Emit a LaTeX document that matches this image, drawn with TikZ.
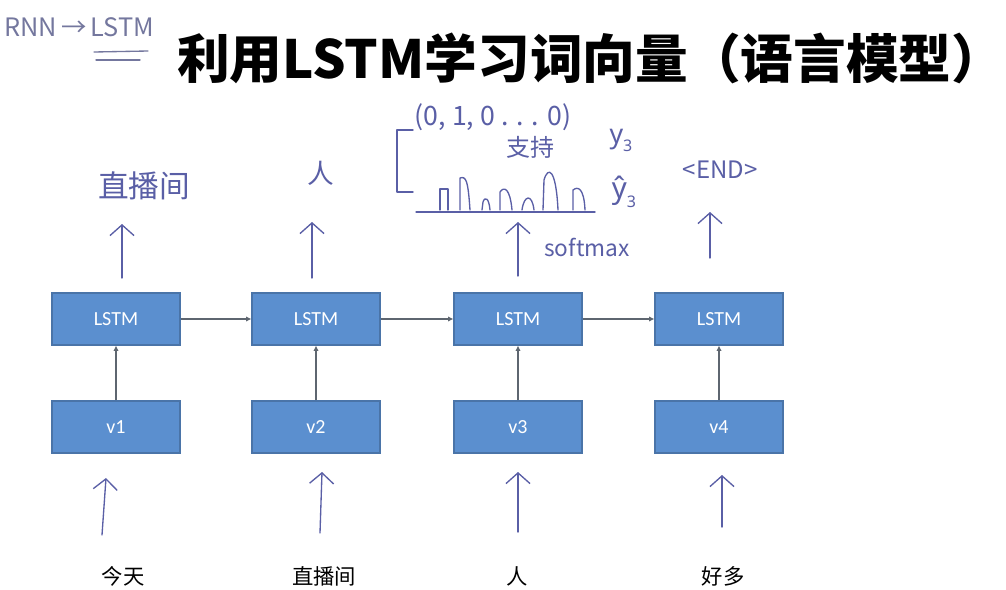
\documentclass[tikz,border=0pt]{standalone}
\usepackage{fontspec}
\setmainfont{Carlito}
\newfontfamily\cjk{Noto Sans CJK SC}
\newfontfamily\lat{Noto Sans}
\usetikzlibrary{arrows.meta}
\definecolor{boxfill}{HTML}{5B8FCF}
\definecolor{boxline}{HTML}{4A74A8}
\definecolor{pen}{HTML}{5A5FA6}
\definecolor{pen2}{HTML}{74779E}
\definecolor{conncol}{HTML}{5E6670}
\newcommand{\lowsub}[1]{\raisebox{-0.3em}{\fontsize{12}{12}\selectfont #1}}
\tikzset{
  cell/.style={draw=boxline, line width=0.8pt, fill=boxfill, text=white, minimum width=96pt, minimum height=39pt, inner sep=0pt, font=\fontsize{15}{15}\selectfont},
  conn/.style={draw=conncol, line width=0.9pt, -{Latex[length=4pt,width=4pt]}},
  harrow/.style={draw=pen, line width=1pt, line cap=round, -{Straight Barb[length=8pt,width=18pt]}},
  hline/.style={draw=pen, line width=1pt, line cap=round, line join=round},
  htext/.style={text=pen, inner sep=0pt, font=\cjk\fontsize{#1}{#1}\selectfont},
  ltext/.style={text=pen, inner sep=0pt, font=\lat\fontsize{#1}{#1}\selectfont},
  word/.style={inner sep=0pt, font=\cjk\fontsize{16}{16}\selectfont},
}
\begin{document}
\begin{tikzpicture}[x=0.75pt, y=-0.75pt]
\useasboundingbox (0,0) rectangle (1006,589);
\fill[white] (0,0) rectangle (1006,589);

% title
\node[anchor=west, inner sep=0pt, font=\cjk\bfseries\fontsize{39.5}{39.5}\selectfont] (title) at (177,58) {利用LSTM学习词向量（语言模型）};

% handwritten note top-left
\node[anchor=west, text=pen2, inner sep=0pt, font=\cjk\fontsize{19}{19}\selectfont] (note) at (4,27) {RNN\,→\,LSTM};
\coordinate (u1a) at (94,52); \coordinate (u1b) at (148,51);
\coordinate (u2a) at (96,60); \coordinate (u2b) at (140,60);
\draw[hline, draw=pen2] (u1a) -- (u1b);
\draw[hline, draw=pen2] (u2a) -- (u2b);

% LSTM cells
\node[cell] (l1) at (116,319) {LSTM};
\node[cell] (l2) at (316,319) {LSTM};
\node[cell] (l3) at (518,319) {LSTM};
\node[cell] (l4) at (719,319) {LSTM};
% vectors
\node[cell] (v1) at (116,427) {v1};
\node[cell] (v2) at (316,427) {v2};
\node[cell] (v3) at (518,427) {v3};
\node[cell] (v4) at (719,427) {v4};

\draw[conn] (v1) -- (l1);
\draw[conn] (v2) -- (l2);
\draw[conn] (v3) -- (l3);
\draw[conn] (v4) -- (l4);
\draw[conn] (l1) -- (l2);
\draw[conn] (l2) -- (l3);
\draw[conn] (l3) -- (l4);

% bottom words
\node[word] (w1) at (123,576) {今天};
\node[word] (w2) at (324,576) {直播间};
\node[word] (w3) at (517,576) {人};
\node[word] (w4) at (723,576) {好多};

% bottom handwritten arrows
\coordinate (b1s) at (102,535); \coordinate (b1e) at (106,478);
\coordinate (b2s) at (320,533); \coordinate (b2e) at (322,472);
\coordinate (b3s) at (518,532); \coordinate (b3e) at (518,472);
\coordinate (b4s) at (722,527); \coordinate (b4e) at (722,475);
\draw[harrow] (b1s) -- (b1e);
\draw[harrow] (b2s) -- (b2e);
\draw[harrow] (b3s) -- (b3e);
\draw[harrow] (b4s) -- (b4e);

% top handwritten arrows
\coordinate (t1s) at (122,278); \coordinate (t1e) at (122,224);
\coordinate (t2s) at (312,278); \coordinate (t2e) at (312,222);
\coordinate (t3s) at (518,276); \coordinate (t3e) at (518,222);
\coordinate (t4s) at (710,258); \coordinate (t4e) at (710,212);
\draw[harrow] (t1s) -- (t1e);
\draw[harrow] (t2s) -- (t2e);
\draw[harrow] (t3s) -- (t3e);
\draw[harrow] (t4s) -- (t4e);

% handwritten outputs
\node[htext=23] (o1) at (144,186) {直播间};
\node[htext=20] (o2) at (321,173) {人};
\node[htext=18] (o4) at (720,170) {<END>};
\node[htext=20] (onehot) at (493,117) {(0, 1, 0 . . . 0)};
\node[htext=18] (sup) at (530,147) {支持};
\node[ltext=20] (y3) at (621,140) {y\lowsub{3}};
\node[ltext=22] (yh3) at (624,192) {ŷ\lowsub{3}};
\node[htext=17] (sm) at (587,247) {softmax};

% bracket
\coordinate (br1) at (413,130); \coordinate (br2) at (397,130);
\coordinate (br3) at (397,192); \coordinate (br4) at (413,192);
\draw[hline] (br1) -- (br2) -- (br3) -- (br4);

% histogram
\coordinate (hb1) at (416,212); \coordinate (hb2) at (595,212);
\draw[hline] (hb1) -- (hb2);
\draw[hline] (440,210) -- (440,189) -- (448,189) -- (448,210);
\draw[hline] (460,210) -- (460,178) .. controls (466,176) and (468,180) .. (470,210);
\draw[hline] (482,210) -- (483,202) .. controls (485,196) and (489,198) .. (490,210);
\draw[hline] (500,210) -- (500,192) .. controls (504,186) and (510,188) .. (512,210);
\draw[hline] (522,210) .. controls (524,195) and (532,193) .. (534,210);
\draw[hline] (543,210) -- (544,180) .. controls (548,166) and (556,168) .. (558,210);
\draw[hline] (573,210) -- (573,190) .. controls (578,186) and (584,188) .. (585,210);
\end{tikzpicture}
\end{document}
